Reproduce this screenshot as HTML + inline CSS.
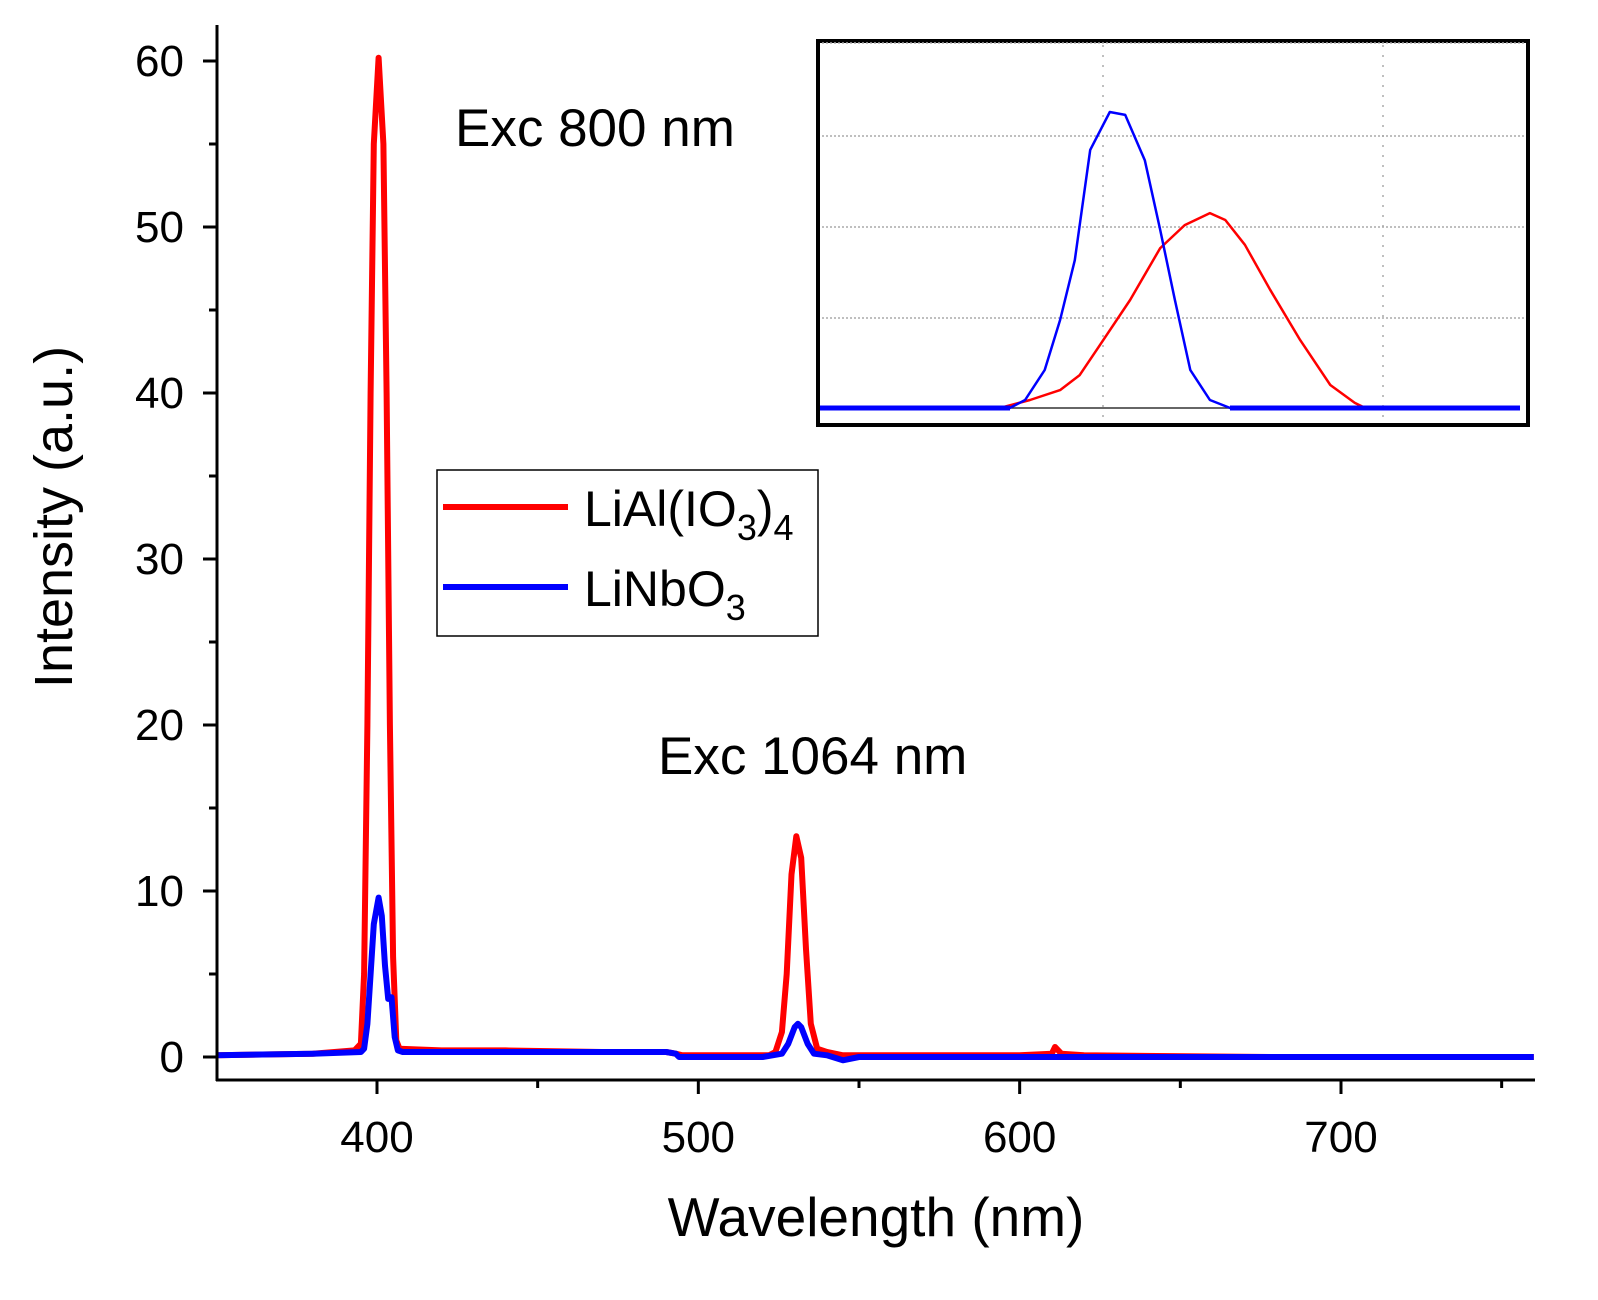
<!DOCTYPE html>
<html><head><meta charset="utf-8"><style>
html,body{margin:0;padding:0;background:#fff;}
svg{display:block;font-family:"Liberation Sans",Arial,sans-serif;}
</style></head><body>
<svg id="chart" width="1598" height="1300" viewBox="0 0 1598 1300">
<g id="main"></g>
<g id="axes"></g>
<g id="inset"></g>
<text x="455" y="146" font-size="53">Exc 800 nm</text>
<text x="658" y="774" font-size="53">Exc 1064 nm</text>
<g>
<rect x="437" y="470" width="381" height="166" fill="#fff" stroke="#000" stroke-width="1.5"/>
<line x1="443" y1="507" x2="568" y2="507" stroke="#ff0000" stroke-width="6"/>
<text x="584" y="526" font-size="50">LiAl(IO<tspan font-size="36" dy="14">3</tspan><tspan font-size="50" dy="-14">)</tspan><tspan font-size="36" dy="14">4</tspan></text>
<line x1="443" y1="587" x2="568" y2="587" stroke="#0000ff" stroke-width="6"/>
<text x="584" y="606" font-size="50">LiNbO<tspan font-size="36" dy="14">3</tspan></text>
</g>
<text x="876" y="1236" font-size="55" text-anchor="middle">Wavelength (nm)</text>
<text transform="translate(72,517) rotate(-90)" font-size="54" text-anchor="middle">Intensity (a.u.)</text>
</svg>
<script>
const NS="http://www.w3.org/2000/svg";
const xTicks=[400,500,600,700];
const xMinor=[450,550,650,750];
const yTicks=[0,10,20,30,40,50,60];
const yMinor=[5,15,25,35,45,55];
const redWl=[350,380,393,395,396,397,398,399,400.5,402,403,404,405,406,407,420,440,470,490,493,495,510,522,524,526,527.5,529,530.5,532,533.5,535,537,540,545,560,600,610,611,613,620,680,760];
const redI=[0.1,0.2,0.4,0.8,5,20,40,55,60.2,55,40,20,6,1,0.5,0.4,0.4,0.3,0.3,0.2,0.1,0.1,0.1,0.3,1.5,5,11,13.3,12,6.5,2,0.5,0.3,0.1,0.1,0.1,0.2,0.6,0.2,0.1,0.0,0.0];
const blueWl=[350,380,395,396,397,398,399,400.5,401.5,402.5,403.5,404.5,405.5,406.5,408,430,470,490,493,494,520,526,528,530,531,532,534,536,540,545,550,600,760];
const blueI=[0.1,0.2,0.3,0.5,2,5,8,9.6,8.5,5.5,3.5,3.6,1.2,0.4,0.3,0.3,0.3,0.3,0.2,0,0,0.2,0.8,1.8,2,1.8,0.8,0.2,0.1,-0.2,0,0,0];
const insetRedX=[0,25.7,30,34.3,37.1,40,44.3,48.6,52.1,55.7,57.9,60.7,64.3,68.6,72.9,76.4,77.9,100];
const insetRedY=[0,0,2.2,4.9,9,17.3,29.6,43.8,50.1,53.4,51.5,44.7,32.4,18.6,6.3,1.4,0,0];
const insetBlueX=[0,27.1,29.3,32.1,34.3,36.4,38.6,41.4,43.6,46.4,48.6,50.7,52.9,55.7,58.6,100];
const insetBlueY=[0,0,2.2,10.4,24.1,40.5,70.7,81.1,80.3,67.9,48.8,29.6,10.4,2.2,0,0];

const X=v=>377+(v-400)*3.2133;
const Y=v=>1057-v*16.6;
function el(t,a,p){const e=document.createElementNS(NS,t);for(const k in a)e.setAttribute(k,a[k]);p.appendChild(e);return e;}
const main=document.getElementById('main'),axes=document.getElementById('axes'),inset=document.getElementById('inset');

function series(xs,ys,col,name){
 const d=xs.map((x,i)=>(i?'L':'M')+X(x).toFixed(1)+','+Y(ys[i]).toFixed(1)).join('');
 const p=el('path',{d:d,fill:'none',stroke:col,'stroke-width':6,'stroke-linejoin':'round'},main);
 
 
}
series(redWl,redI,'#ff0000','series-lialio3');
series(blueWl,blueI,'#0000ff','series-linbo3');

el('line',{x1:217,y1:25,x2:217,y2:1081,stroke:'#000','stroke-width':3},axes);
el('line',{x1:216,y1:1080,x2:1535,y2:1080,stroke:'#000','stroke-width':3},axes);
xTicks.forEach(v=>{
 const l=el('line',{x1:X(v),y1:1080,x2:X(v),y2:1094,stroke:'#000','stroke-width':3},axes);
 
 
 const t=el('text',{x:X(v),y:1152,'font-size':44,'text-anchor':'middle'},axes);t.textContent=v;
 
 
});
xMinor.forEach(v=>{
 const l=el('line',{x1:X(v),y1:1080,x2:X(v),y2:1088,stroke:'#000','stroke-width':3},axes);
 
 
});
yTicks.forEach(v=>{
 const l=el('line',{x1:203,y1:Y(v),x2:217,y2:Y(v),stroke:'#000','stroke-width':3},axes);
 
 
 const t=el('text',{x:184,y:Y(v)+15,'font-size':44,'text-anchor':'end'},axes);t.textContent=v;
 
 
});
yMinor.forEach(v=>{
 const l=el('line',{x1:209,y1:Y(v),x2:217,y2:Y(v),stroke:'#000','stroke-width':3},axes);
 
 
});

// inset
const IX=v=>820+v*7, IY=v=>408-v*3.65;
el('rect',{x:818,y:41,width:710,height:384,fill:'#fff',stroke:'#000','stroke-width':4},inset);
[43,136,227,318].forEach(y=>{
 const g=el('line',{x1:822,y1:y,x2:1526,y2:y,stroke:'#aaa','stroke-width':1.5,'stroke-dasharray':'2,2'},inset);
 
 
});
[1103,1383].forEach(x=>{
 const g=el('line',{x1:x,y1:45,x2:x,y2:420,stroke:'#aaa','stroke-width':1.5,'stroke-dasharray':'2,8'},inset);
 
 
});
el('line',{x1:960,y1:408,x2:1230,y2:408,stroke:'#333','stroke-width':1.5},inset);
function iseries(xs,ys,col,name){
 const d=xs.map((x,i)=>(i?'L':'M')+IX(x).toFixed(1)+','+IY(ys[i]).toFixed(1)).join('');
 const p=el('path',{d:d,fill:'none',stroke:col,'stroke-width':2.5,'stroke-linejoin':'round'},inset);
 
 
}
iseries(insetRedX,insetRedY,'#ff0000','inset-series-red');
iseries(insetBlueX,insetBlueY,'#0000ff','inset-series-blue');
el('line',{x1:820,y1:408,x2:1010,y2:408,stroke:'#0000ff','stroke-width':5},inset);
el('line',{x1:1230,y1:408,x2:1520,y2:408,stroke:'#0000ff','stroke-width':5},inset);
</script>
</body></html>
